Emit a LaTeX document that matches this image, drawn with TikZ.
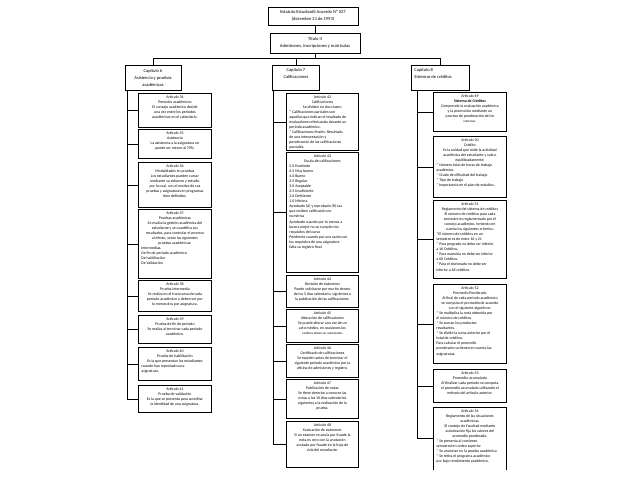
\documentclass[tikz,border=0pt]{standalone}
\usepackage{fontspec}
\setmainfont{Carlito}
\newcommand\lft[1]{\makebox[\linewidth][l]{#1}}
\newcommand\smalltxt[1]{{\fontsize{3.2}{4.2}\selectfont #1}}
\newcommand\artbox[6]{%
  \node[artbox] (#1) at (#2,#3) {\parbox[t][#5pt][t]{\dimexpr#4pt-6pt\relax}{\fontsize{3.9}{5.05}\selectfont\centering\vspace*{2.2pt}#6}};}
\begin{document}
\begin{tikzpicture}[x=1pt,y=-1pt,
  every node/.style={inner sep=0pt},
  box/.style={draw, line width=0.9pt},
  artbox/.style={box, inner xsep=3pt, inner ysep=0pt, anchor=north west},
  link/.style={line width=0.9pt}]
\useasboundingbox (0,0) rectangle (638,493);

% top levels
\node[box, minimum width=90pt, minimum height=18pt, align=center, font=\fontsize{4.5}{6.6}\selectfont] (top) at (313,16) {Estatuto Estudiantil Acuerdo Nº 027\\(diciembre 21 de 1993)};
\node[box, minimum width=90pt, minimum height=20pt, align=center, font=\fontsize{4.5}{6.8}\selectfont] (tit) at (315,43) {Título II\\Admisiones, inscripciones y matrículas};

% chapters
\node[box, minimum width=56pt, minimum height=25pt, align=center, font=\fontsize{4.5}{7}\selectfont] (chL) at (153,77.5) {Capítulo 6\\Asistencia y pruebas\\académicas};
\node[artbox] (chM) at (272,65) {\parbox[t][25pt][t]{41pt}{\fontsize{4.5}{7}\selectfont\centering\vspace*{3pt}Capítulo 7\\Calificaciones}};
\node[artbox] (chR) at (411,65) {\parbox[t][25pt][t]{52pt}{\fontsize{4.5}{7}\selectfont\raggedright\vspace*{3pt}Capítulo 8\\Sistemas de créditos}};

\draw[link] (tit.north) -- (tit.north |- top.south);
\coordinate (bus) at ([yshift=-5pt]tit.south);
\draw[link] (tit.south) -- (bus);
\draw[link] (chL.north) -- (chL.north |- bus) -- (chR.north |- bus) -- (chR.north);
\draw[link] (chM.north) -- (chM.north |- bus);

% left column
\artbox{a34}{138}{93}{73}{34}{Artículo 34\\Periodos académicos\\El consejo académico decide\\una vez entre los periodos\\académicos en el calendario.}
\artbox{a35}{138}{129}{73}{29}{Artículo 35\\Asistencia\\La asistencia a la asignatura no\\puede ser menor al 70\%.}
\artbox{a36}{138}{162}{73}{45}{Artículo 36\\Modalidades en pruebas\\Los estudiantes pueden cursar\\mediante su esfuerzo y estudio\\por lo cual, con el motivo de sus\\pruebas y asignaturas en programas\\bien definidos.}
\artbox{a37}{138}{209}{73}{69}{Artículo 37\\Pruebas académicas\\Se evalúa la gestión académica del\\estudiante y se cuantifica sus\\resultados, para controlar el proceso\\al efecto, serán las siguientes\\pruebas académicas:\\\lft{Intermedias.}\\\lft{De fin de periodo académico}\\\lft{De habilitación}\\\lft{De Validación}}
\artbox{a38}{138}{280}{73}{31}{Artículo 38\\Prueba intermedia\\Se realiza en el transcurso de cada\\periodo académico y deben ser por\\lo menos dos por asignatura.}
\artbox{a39}{138}{315}{73}{28}{Artículo 39\\Prueba de fin de periodo\\Se realiza al terminar cada periodo\\académico.}
\artbox{a40}{138}{347}{73}{33}{Artículo 40\\Prueba de habilitación\\Es la que presentan los estudiantes\\\lft{cuando han reprobado una}\\\lft{asignatura.}}
\artbox{a41}{138}{385}{73}{27}{Artículo 41\\Prueba de validación\\Es la que se presenta para acreditar\\la identidad de una asignatura.}

\coordinate (sL) at ([xshift=3pt]chL.south west);
\draw[link] (sL) |- (a41.west);
\foreach \n in {a34,a35,a36,a37,a38,a39,a40} \draw[link] (sL |- \n.west) -- (\n.west);

% middle column
\artbox{a42}{286}{93}{72}{57}{Artículo 42\\Calificaciones\\Se dividen en dos clases:\\\lft{* Calificaciones parciales son}\\\lft{aquellas que indican el resultado de}\\\lft{evaluaciones efectuadas durante un}\\\lft{periodo académico.}\\\lft{* Calificaciones finales: Resultado}\\\lft{de una interpretación y}\\\lft{ponderación de las calificaciones}\\\lft{parciales.}}
\artbox{a43}{286}{152}{72}{120}{Artículo 43\\Escala de calificaciones\\\lft{5.0 Excelente}\\\lft{4.5 Muy bueno}\\\lft{4.0 Bueno}\\\lft{3.5 Regular}\\\lft{3.0 Aceptable}\\\lft{2.5 Insuficiente}\\\lft{2.0 Deficiente}\\\lft{1.0 Mínima}\\\lft{Aprobado (A) y reprobado (R) Las}\\\lft{que reciben calificación no}\\\lft{numérica}\\\lft{Aprobado cuando por lo menos a}\\\lft{buena mejor no se cumplen los}\\\lft{requisitos del curso}\\\lft{Pendiente cuando por una razón con}\\\lft{los requisitos de una asignatura}\\\lft{falta su registro final}}
\artbox{a44}{286}{275}{72}{32}{Artículo 44\\Revisión de exámenes\\Puede solicitarse por escrito dentro\\de los 5 días calendario, siguientes a\\la publicación de las calificaciones.}
\artbox{a45}{286}{309}{72}{33}{Artículo 45\\Alteración de calificaciones\\Se puede alterar una vez de un\\acto médico, en ocasiones los\\\smalltxt{cambios deben ser autorizados}}
\artbox{a46}{286}{344}{72}{33}{Artículo 46\\Certificado de calificaciones\\Se expiden antes de terminar el\\siguiente periodo académico por la\\oficina de admisiones y registro.}
\artbox{a47}{286}{379}{72}{39}{Artículo 47\\Publicación de notas\\Se tiene derecho a conocer las\\notas a los 10 días calendarios\\siguientes a la realización de la\\prueba.}
\artbox{a48}{286}{421}{72}{46}{Artículo 48\\Evaluación de exámenes\\Si un examen se anula por fraude la\\nota es cero con la anotación\\anulado por fraude en la hoja de\\vida del estudiante.}

\coordinate (sM) at ([xshift=1.5pt]chM.south west);
\draw[link] (sM) |- (a48.west);
\foreach \n in {a42,a43,a44,a45,a46,a47} \draw[link] (sM |- \n.west) -- (\n.west);

% right column
\artbox{a49}{433}{92}{73}{39}{Artículo 49\\\textbf{Sistema de Créditos}\\Comprende la evaluación académica\\y la promoción mediante un\\proceso de ponderación de los\\\smalltxt{intereses.}}
\artbox{a50}{433}{136}{73}{61}{Artículo 50\\Crédito\\Es la unidad que mide la actividad\\académica del estudiante y vale o\\equilibradamente:\\\lft{* Número total de horas de trabajo}\\\lft{académico.}\\\lft{* Grado de dificultad del trabajo}\\\lft{* Tipo de trabajo}\\\lft{* Importancia en el plan de estudios.}}
\artbox{a51}{433}{200}{73}{78}{Artículo 51\\Reglamento del sistema de créditos\\El número de créditos para cada\\semestre es reglamentado por el\\consejo académico, teniendo en\\cuenta los siguientes criterios:\\\lft{*El número de créditos en un}\\\lft{semestre es de entre 16 y 21}\\\lft{* Para pregrado no debe ser inferior}\\\lft{a 16 Créditos.}\\\lft{* Para maestría no debe ser inferior}\\\lft{a 60 Créditos.}\\\lft{* Para el doctorado no debe ser}\\\lft{inferior a 48 créditos.}}
\artbox{a52}{433}{284}{73}{79}{Artículo 52\\Promedio Ponderado\\Al final de cada periodo académico\\se computa el promedio de acuerdo\\con el siguiente algoritmo:\\\lft{* Se multiplica la nota obtenida por}\\\lft{el número de créditos.}\\\lft{* Se suman los productos}\\\lft{resultantes.}\\\lft{* Se divide la suma anterior por el}\\\lft{total de créditos.}\\\lft{Para calcular el promedio}\\\lft{ponderado no tienen en cuenta las}\\\lft{asignaturas.}}
\artbox{a53}{433}{369}{73}{33}{Artículo 53\\Promedio acumulado\\Al finalizar cada periodo se computa\\el promedio acumulado utilizando el\\método del artículo anterior.}
\begin{scope}
\clip (0,0) rectangle (638,469);
\artbox{a54}{433}{407}{73}{66}{Artículo 54\\Reglamento de las situaciones\\académicas.\\El consejo de Facultad mediante\\autorización fija los valores del\\promedio ponderado.\\\lft{* Se presenta al comienzo}\\\lft{semestral en orden superior}\\\lft{* Se anuncian en la prueba académica}\\\lft{* Se retira el programa académico}\\\lft{por bajo rendimiento académico.}}
\end{scope}
\coordinate (a54c) at ([yshift=-31pt]a54.north west);

\coordinate (sR) at ([xshift=6pt]chR.south west);
\draw[link] (sR) |- (a54c);
\foreach \n in {a49,a50,a51,a52,a53} \draw[link] (sR |- \n.west) -- (\n.west);
\end{tikzpicture}
\end{document}
